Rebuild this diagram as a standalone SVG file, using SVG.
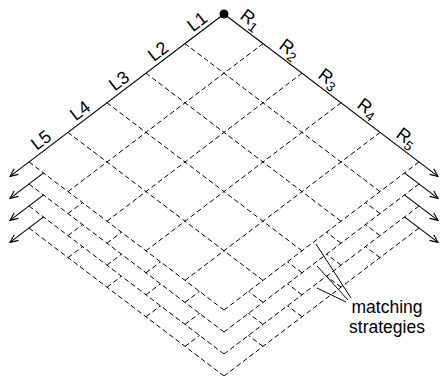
<svg xmlns="http://www.w3.org/2000/svg" width="440" height="383" viewBox="0 0 440 383">
  <defs>
    <style>
      .ax{stroke:#000;stroke-width:1.1;fill:none}
      .dl{stroke:#000;stroke-width:1;stroke-dasharray:5 3;fill:none}
      .lb{font-family:"Liberation Sans",Arial,sans-serif;font-size:18px;fill:#000}
      .sub{font-size:13.5px}
      .note{font-family:"Liberation Sans",Arial,sans-serif;font-size:17.5px;fill:#000}
      .co{stroke:#000;stroke-width:1;fill:none}
    </style>
    <marker id="arr" markerUnits="userSpaceOnUse" markerWidth="12" markerHeight="12" viewBox="-10 -6 12 12" refX="0" refY="0" orient="auto">
      <path d="M-8,-3.5 L0,0 L-8,3.5" fill="none" stroke="#000" stroke-width="1.1"/>
    </marker>
    <!-- each lower sheet is only visible outside the sheet lying above it -->
    <clipPath id="below0"><path clip-rule="evenodd" d="M0,0H440V383H0Z M224,14L419,162L224,310L29,162Z"/></clipPath>
    <clipPath id="below1"><path clip-rule="evenodd" d="M0,0H440V383H0Z M224,36L419,184L224,332L29,184Z"/></clipPath>
    <clipPath id="below2"><path clip-rule="evenodd" d="M0,0H440V383H0Z M224,58L419,206L224,354L29,206Z"/></clipPath>
  </defs>

  <!-- front sheet: L/R axes and the 5x5 pairing grid -->
  <g id="sheet0">
    <g id="axes">
      <path class="ax" d="M224,14 L10,176.4" marker-end="url(#arr)"/>
      <path class="ax" d="M224,14 L438,176.4" marker-end="url(#arr)"/>
    </g>
    <g id="grid">
      <path class="dl" d="M29,162 L224,310"/>
      <path class="dl" d="M419,162 L224,310"/>
      <path class="dl" d="M380,191.6 L185,43.6"/>
      <path class="dl" d="M341,221.2 L146,73.2"/>
      <path class="dl" d="M302,250.8 L107,102.8"/>
      <path class="dl" d="M263,280.4 L68,132.4"/>
      <path class="dl" d="M68,191.6 L263,43.6"/>
      <path class="dl" d="M107,221.2 L302,73.2"/>
      <path class="dl" d="M146,250.8 L341,102.8"/>
      <path class="dl" d="M185,280.4 L380,132.4"/>
    </g>
  </g>

  <!-- stacked sheets behind the front one -->
  <g id="sheet1" clip-path="url(#below0)"><use href="#sheet0" y="22"/></g>
  <g id="sheet2" clip-path="url(#below1)"><use href="#sheet0" y="44"/></g>
  <g id="sheet3" clip-path="url(#below2)"><use href="#sheet0" y="66"/></g>

  <circle id="origin" cx="224" cy="14" r="4.5" fill="#000"/>

  <g id="left-labels" class="lb" transform="translate(224,14) rotate(-37.2)" text-anchor="middle">
    <text x="-26" y="-4">L1</text>
    <text x="-75" y="-4">L2</text>
    <text x="-124" y="-4">L3</text>
    <text x="-173" y="-4">L4</text>
    <text x="-222" y="-4">L5</text>
  </g>
  <g id="right-labels" class="lb" transform="translate(224,14) rotate(37.2)" text-anchor="middle">
    <text x="24.5" y="-6">R<tspan class="sub" dy="4">1</tspan></text>
    <text x="73.4" y="-6">R<tspan class="sub" dy="4">2</tspan></text>
    <text x="122.4" y="-6">R<tspan class="sub" dy="4">3</tspan></text>
    <text x="171.4" y="-6">R<tspan class="sub" dy="4">4</tspan></text>
    <text x="220.3" y="-6">R<tspan class="sub" dy="4">5</tspan></text>
  </g>

  <g id="callout">
    <path class="co" d="M316,244 L351,298"/>
    <path class="co" d="M317,266 L348,300"/>
    <path class="co" d="M317,288 L346,302"/>
    <text class="note" x="387" y="313" text-anchor="middle">matching</text>
    <text class="note" x="387" y="333" text-anchor="middle">strategies</text>
  </g>
</svg>
